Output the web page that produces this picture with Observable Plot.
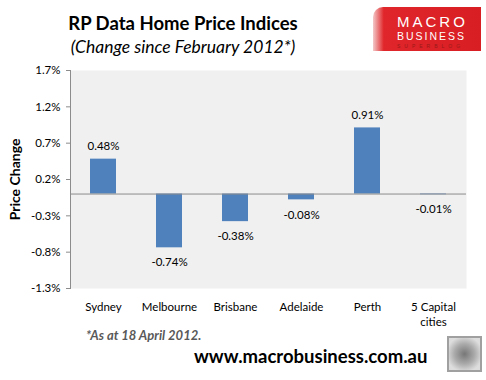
<!DOCTYPE html>
<html>
<head>
<meta charset="utf-8">
<script src="https://cdn.jsdelivr.net/npm/d3@7"></script>
<script src="https://cdn.jsdelivr.net/npm/@observablehq/plot@0.6"></script>
<style>
  body { margin: 0; background: #fff; }
  #wrap { position: relative; width: 486px; height: 380px; overflow: hidden; font-family: Lato, "Open Sans", sans-serif; }
  #chart { position: absolute; left: 0; top: 0; }
  .abs { position: absolute; white-space: nowrap; }
  #title { left: 0; width: 366px; top: 12px; text-align: center; font-weight: bold; font-size: 18.5px; color: #000; }
  #subtitle { left: 0; width: 366px; top: 36px; text-align: center; font-style: italic; font-size: 17.5px; color: #000; }
  #logo { left: 373px; top: 7px; width: 108px; height: 44px; background: linear-gradient(90deg, #f4c8c8 0%, #e0262a 10%, #d81e22 100%); border-top-left-radius: 10px; color: #fff; text-align: center; font-family: "Liberation Sans", Arial, sans-serif; }
  #logo .l1 { position: absolute; left: 24px; top: 6px; font-size: 15px; letter-spacing: 3px; }
  #logo .l2 { position: absolute; left: 24px; top: 23px; font-size: 10.5px; letter-spacing: 2px; }
  #logo .l3 { position: absolute; left: 24px; top: 36px; font-size: 5px; letter-spacing: 4px; color: #9a1a1a; }
  #foot { left: 86px; top: 327px; font-weight: bold; font-style: italic; font-size: 13px; color: #595959; }
  #url { left: 194px; top: 345px; font-weight: bold; font-size: 18.5px; color: #000; }
  #wolf { left: 447px; top: 336px; width: 31px; height: 32px; border: 2px solid #a0a0a0; background: radial-gradient(circle at 50% 50%, #777 0%, #aaa 45%, #ddd 80%); }
</style>
</head>
<body>
<div id="wrap">
  <div id="chart"></div>
  <div id="title" class="abs">RP Data Home Price Indices</div>
  <div id="subtitle" class="abs">(Change since February 2012*)</div>
  <div id="logo" class="abs"><span class="l1">MACRO</span><span class="l2">BUSINESS</span><span class="l3">SUPERBLOG</span></div>
  <div id="foot" class="abs">*As at 18 April 2012.</div>
  <div id="url" class="abs">www.macrobusiness.com.au</div>
  <div id="wolf" class="abs"></div>
</div>
<script>
const cities = ["Sydney", "Melbourne", "Brisbane", "Adelaide", "Perth", "5 Capital\ncities"];
const changes = [0.48, -0.74, -0.38, -0.08, 0.91, -0.01];
const yTicks = [-1.3, -0.8, -0.3, 0.2, 0.7, 1.2, 1.7];

const data = cities.map((c, i) => ({city: c, value: changes[i]}));
const fmt = d => d.toFixed(2) + "%";

const plot = Plot.plot({
  width: 486,
  height: 380,
  marginTop: 70,
  marginBottom: 92,
  marginLeft: 70,
  marginRight: 20,
  style: {fontFamily: "Lato, 'Open Sans', sans-serif", fontSize: "11.5px", color: "#000", background: "transparent"},
  x: {domain: cities, paddingInner: 0.6, paddingOuter: 0.3, label: null},
  y: {domain: [-1.3, 1.7], label: null},
  marks: [
    Plot.frame({fill: "#f0f0f0", stroke: null}),
    Plot.barY(data, {x: "city", y: "value", fill: "#4f81bd"}),
    Plot.ruleY([0], {stroke: "#8c8c8c", strokeWidth: 1}),
    Plot.frame({anchor: "left", stroke: "#8c8c8c"}),
    Plot.axisY({ticks: yTicks, tickFormat: d => d.toFixed(1) + "%", tickSize: 4, tickPadding: 6, stroke: "#8c8c8c", fontSize: 11.5, label: null}),
    Plot.axisX({tickSize: 0, tickPadding: 12, fontSize: 11.5, label: null, lineHeight: 1.3}),
    Plot.text(data.filter(d => d.value >= 0), {x: "city", y: "value", text: d => fmt(d.value), dy: -13, fontSize: 11.5}),
    Plot.text(data.filter(d => d.value < 0), {x: "city", y: "value", text: d => fmt(d.value), dy: 15, fontSize: 11.5}),
    Plot.text(["Price Change"], {frameAnchor: "left", textAnchor: "middle", dx: -55, rotate: -90, fontWeight: "bold", fontSize: 14})
  ]
});
document.getElementById("chart").appendChild(plot);
</script>
</body>
</html>
